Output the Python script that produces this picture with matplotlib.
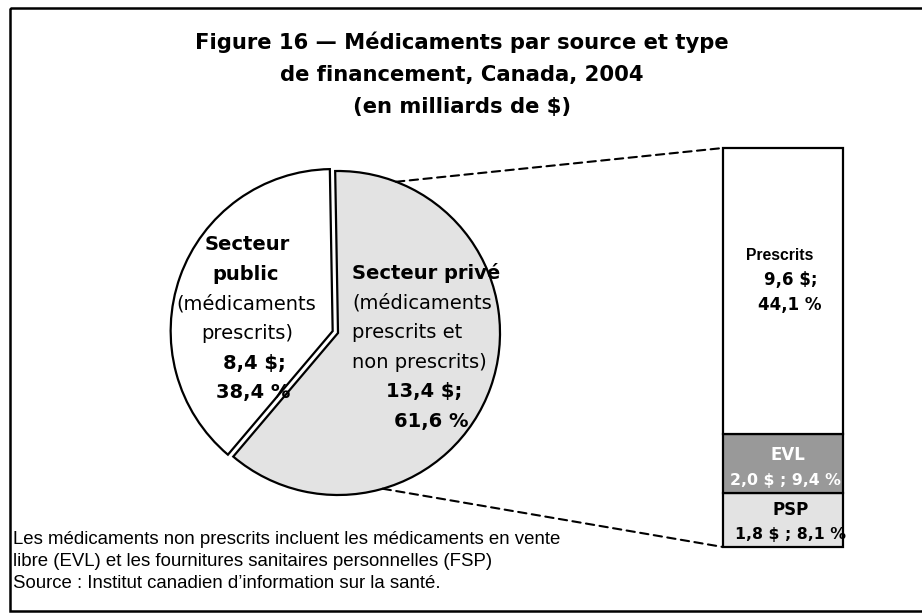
import numpy as np
import matplotlib.pyplot as plt
from matplotlib.patches import ConnectionPatch, Rectangle

# données, en milliards de $
secteur_val = [8.4, 13.4]        # public, privé
secteur_pct = [38.4, 61.6]
secteur_col = ["white", "#e3e3e3"]
# composition du secteur privé, du bas vers le haut
prive_noms = ["PSP", "EVL", "Prescrits"]
prive_val = [1.8, 2.0, 9.6]
prive_pct = [8.1, 9.4, 44.1]
prive_col = ["#e3e3e3", "#999999", "white"]

titre = ["Figure 16 \u2014 Médicaments par source et type",
         "de financement, Canada, 2004",
         "(en milliards de $)"]
notes = ["Les médicaments non prescrits incluent les médicaments en vente",
         "libre (EVL) et les fournitures sanitaires personnelles (FSP)",
         "Source : Institut canadien d\u2019information sur la santé."]


def fr(v):
    return f"{v:.1f}".replace(".", ",")


W, H = 922, 614
fig = plt.figure(figsize=(W / 100, H / 100), dpi=100)

# camembert
R = 162.0
cx, cy = 338, 333
lim = 1.2
axp = fig.add_axes([(cx - lim * R) / W, (H - cy - lim * R) / H,
                    2 * lim * R / W, 2 * lim * R / H])
axp.pie(secteur_val, colors=secteur_col, explode=[0.035, 0], startangle=91,
        wedgeprops=dict(edgecolor="black", linewidth=1.6))
axp.set_xlim(-lim, lim)
axp.set_ylim(-lim, lim)
axp.set_aspect("equal")
axp.axis("off")

# barre empilée du privé
bx0, bx1, by0, by1 = 723, 843, 148, 547
axb = fig.add_axes([bx0 / W, (H - by1) / H, (bx1 - bx0) / W, (by1 - by0) / H])
bas = np.cumsum([0] + prive_val[:-1])
bars = axb.bar(0, prive_val, bottom=bas, width=1, color=prive_col,
               edgecolor="black", linewidth=1.6)
for b in bars:
    b.set_clip_on(False)
axb.set_xlim(-0.5, 0.5)
axb.set_ylim(0, sum(prive_val))
axb.axis("off")

# lignes pointillées
for ang, yb in [(69, sum(prive_val)), (-74, 0)]:
    a = np.radians(ang)
    con = ConnectionPatch(xyA=(np.cos(a), np.sin(a)), coordsA=axp.transData,
                          xyB=(-0.5, yb), coordsB=axb.transData,
                          linestyle=(0, (4, 2.6)), linewidth=1.5, color="black")
    fig.add_artist(con)

# calque pour le texte, en pixels
ax = fig.add_axes([0, 0, 1, 1])
ax.set_xlim(0, W)
ax.set_ylim(H, 0)
ax.axis("off")
# cadre (le bord droit sort de l'image)
ax.add_patch(Rectangle((9.5, 7.5), 925, 603.5, fill=False, edgecolor="black",
                       linewidth=1.8, clip_on=True))

for i, t in enumerate(titre):
    ax.text(462, 42 + 32.5 * i, t, ha="center", va="center",
            fontsize=15.2, fontweight="bold")

# étiquettes du camembert
pub = [("Secteur", "bold", 247), ("public", "bold", 246),
       ("(médicaments", "normal", 246), ("prescrits)", "normal", 247),
       (fr(secteur_val[0]) + " $;", "bold", 254),
       (fr(secteur_pct[0]) + " %", "bold", 253)]
for i, (t, w, x) in enumerate(pub):
    ax.text(x, 245 + 29.5 * i, t, ha="center", va="center",
            fontsize=14, fontweight=w)

priv = ["Secteur privé", "(médicaments", "prescrits et", "non prescrits)"]
for i, t in enumerate(priv):
    ax.text(352, 273 + 29.7 * i, t, ha="left", va="center", fontsize=14,
            fontweight="bold" if i == 0 else "normal")
ax.text(424, 392, fr(secteur_val[1]) + " $;", ha="center", va="center",
        fontsize=14, fontweight="bold")
ax.text(431, 422, fr(secteur_pct[1]) + " %", ha="center", va="center",
        fontsize=14, fontweight="bold")

# étiquettes de la barre
ax.text(780, 256, prive_noms[2], ha="center", va="center",
        fontsize=11.3, fontweight="bold", family="Liberation Sans")
ax.text(791, 280, fr(prive_val[2]) + " $;", ha="center", va="center",
        fontsize=12, fontweight="bold")
ax.text(790, 305, fr(prive_pct[2]) + " %", ha="center", va="center",
        fontsize=12, fontweight="bold")
ax.text(788, 455, prive_noms[1], ha="center", va="center",
        fontsize=12, fontweight="bold", color="white")
ax.text(785, 480, f"{fr(prive_val[1])} $ ; {fr(prive_pct[1])} %",
        ha="center", va="center", fontsize=11.3, fontweight="bold", color="white")
ax.text(791, 510, prive_noms[0], ha="center", va="center",
        fontsize=12, fontweight="bold")
ax.text(790, 534, f"{fr(prive_val[0])} $ ; {fr(prive_pct[0])} %",
        ha="center", va="center", fontsize=11.3, fontweight="bold")

for i, t in enumerate(notes):
    ax.text(13, 539 + 22 * i, t, ha="left", va="center", fontsize=13.4,
            family="Liberation Sans")

fig.savefig("out.png", dpi=100)
